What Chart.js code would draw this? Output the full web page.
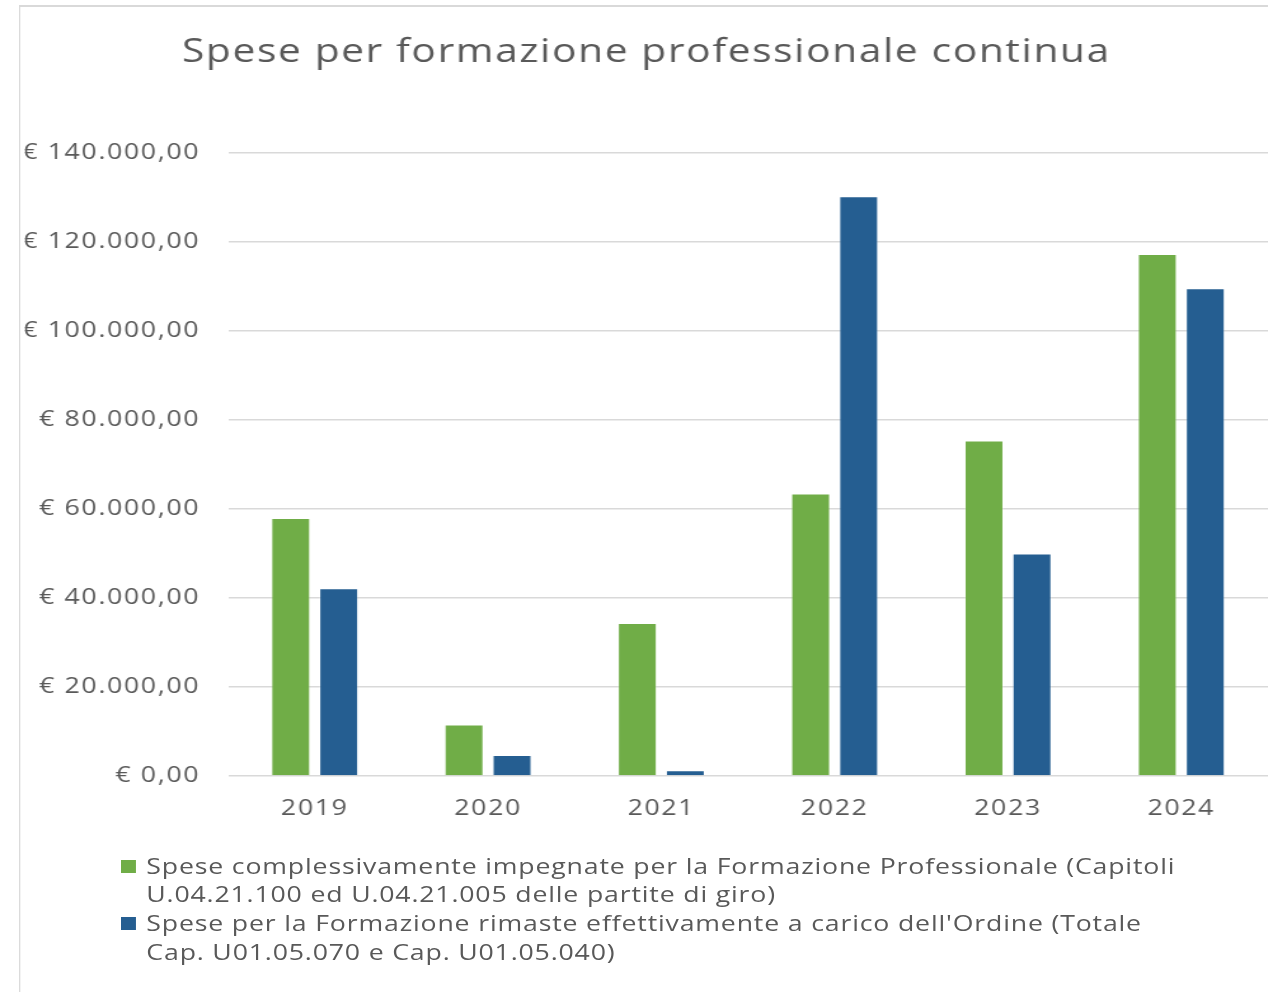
<!DOCTYPE html>
<html lang="it">
<head>
  <meta charset="UTF-8" />
  <title>Spese per formazione professionale continua</title>
  <script src="https://cdn.jsdelivr.net/npm/chart.js"></script>
  <style>
    html, body { margin: 0; padding: 0; background: #fff; overflow: hidden; }
    /* the reference is stretched horizontally, so the whole chart is drawn narrow and widened */
    #stage { position: absolute; left: 0; top: 0; width: 998px; height: 992px;
             transform: scaleX(1.2705); transform-origin: 0 0; font-family: 'Open Sans', sans-serif; }
    #frame { position: absolute; left: 15px; top: 5px; right: 0; bottom: 0;
             border-left: 1.6px solid #d9d9d9; border-top: 2px solid #d9d9d9; }
    #chart { position: absolute; left: 0; top: 0; }
    #legend { position: absolute; left: 94.5px; top: 851.6px; color: #595959; font-size: 21px;
              line-height: 28.7px; letter-spacing: 0.65px; }
    .item { display: flex; align-items: flex-start; }
    .box { width: 12.6px; height: 13px; margin-top: 8.4px; margin-right: 8.1px; flex: none; }
  </style>
</head>
<body>
<div id="stage">
  <div id="frame"></div>
  <canvas id="chart" width="998" height="992"></canvas>
  <div id="legend"></div>
</div>

<script>
  const years = ['2019', '2020', '2021', '2022', '2023', '2024'];
  const impegnate = [58000, 11600, 34400, 63500, 75400, 117300];
  const aCarico = [42200, 4700, 1300, 130300, 50000, 109600];
  const yTicks = [0, 20000, 40000, 60000, 80000, 100000, 120000, 140000];
  const seriesNames = [
    ['Spese complessivamente impegnate per la Formazione Professionale (Capitoli',
     'U.04.21.100 ed U.04.21.005 delle partite di giro)'],
    ['Spese per la Formazione rimaste effettivamente a carico dell\'Ordine (Totale',
     'Cap. U01.05.070 e Cap. U01.05.040)']
  ];
  const seriesColors = ['#70AD47', '#255E91'];

  function euro(v) {
    const int = String(Math.round(v)).replace(/\B(?=(\d{3})+(?!\d))/g, '.');
    return '€ ' + int + ',00';
  }

  Chart.defaults.font.family = "'Open Sans', sans-serif";
  Chart.defaults.color = '#595959';

  // wider letter spacing like the original lettering
  const spacing = {
    id: 'spacing',
    beforeDraw(chart) { chart.ctx.letterSpacing = '1.3px'; }
  };

  const series = [impegnate, aCarico];

  new Chart(document.getElementById('chart'), {
    type: 'bar',
    data: {
      labels: years,
      datasets: series.map((values, i) => ({
        label: seriesNames[i].join(' '),
        data: values,
        backgroundColor: seriesColors[i],
        borderColor: 'rgba(255,255,255,0.25)',
        borderWidth: 1,
        categoryPercentage: 0.554,
        barPercentage: 0.82
      }))
    },
    options: {
      responsive: false,
      animation: false,
      layout: { padding: { top: 33.5, left: 19.6, right: 0, bottom: 158.8 } },
      plugins: {
        legend: { display: false },
        tooltip: { enabled: false },
        title: {
          display: true,
          text: 'Spese per formazione professionale continua',
          font: { size: 32, weight: 'normal' },
          color: '#595959',
          padding: { top: 0, bottom: 81.1 }
        }
      },
      scales: {
        x: {
          grid: { display: false },
          border: { display: false },
          ticks: { font: { size: 21 }, padding: 12, color: '#595959' }
        },
        y: {
          min: 0,
          max: 140000,
          afterBuildTicks: scale => { scale.ticks = yTicks.map(v => ({ value: v })); },
          afterFit: scale => { scale.width = 159.9; },
          grid: { color: '#d9d9d9', lineWidth: 1.6, drawTicks: false },
          border: { display: false },
          ticks: { font: { size: 21 }, padding: 22, color: '#595959', callback: v => euro(v) }
        }
      }
    },
    plugins: [spacing]
  });

  // legend with the two-line labels of the original
  const legend = document.getElementById('legend');
  seriesNames.forEach((lines, i) => {
    const item = document.createElement('div');
    item.className = 'item';
    const box = document.createElement('span');
    box.className = 'box';
    box.style.background = seriesColors[i];
    const text = document.createElement('div');
    text.innerHTML = lines.join('<br>');
    item.appendChild(box);
    item.appendChild(text);
    legend.appendChild(item);
  });
</script>
</body>
</html>
